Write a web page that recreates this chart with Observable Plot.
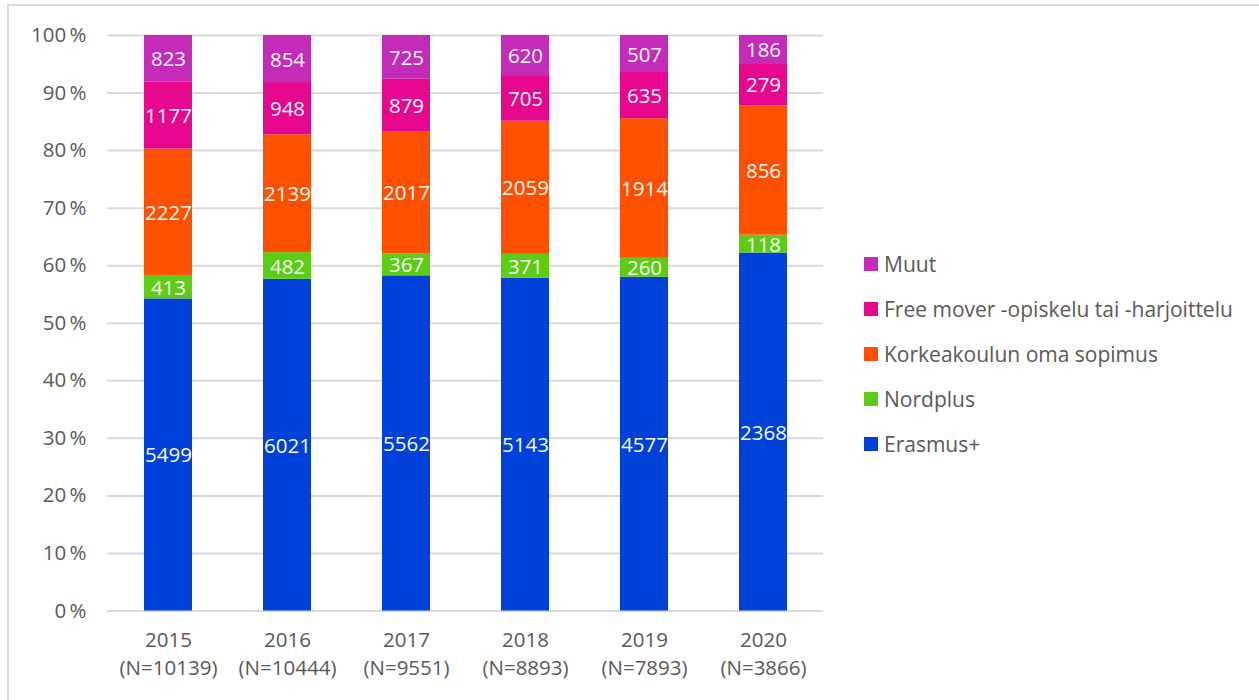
<!DOCTYPE html>
<html>
<head>
<meta charset="utf-8">
<script src="https://cdn.jsdelivr.net/npm/d3@7"></script>
<script src="https://cdn.jsdelivr.net/npm/@observablehq/plot@0.6"></script>
<style>
  html, body { margin: 0; padding: 0; background: #fff; }
  body { width: 1259px; height: 700px; position: relative; overflow: hidden; font-family: "Open Sans", sans-serif; }
  #frame { position: absolute; left: 7px; top: 4px; width: 1270px; height: 720px; border-left: 2px solid #d9d9d9; border-top: 2px solid #d9d9d9; box-sizing: border-box; }
  #chart { position: absolute; left: 0; top: 0; }
  #legend { position: absolute; left: 864px; top: 250px; }
  .item { height: 45px; display: flex; align-items: flex-start; font-size: 21px; color: #595959; line-height: 28px; white-space: nowrap; }
  .sw { width: 14px; height: 14px; margin-right: 6px; margin-top: 7px; flex: none; }
</style>
</head>
<body>
<div id="frame"></div>
<div id="chart"></div>
<div id="legend"></div>
<script>
const years = ["2015", "2016", "2017", "2018", "2019", "2020"];
const totals = ["10139", "10444", "9551", "8893", "7893", "3866"];
const series = ["Erasmus+", "Nordplus", "Korkeakoulun oma sopimus", "Free mover -opiskelu tai -harjoittelu", "Muut"];
const colors = ["#0041D9", "#5CCC14", "#FF5000", "#E6078E", "#C42BB8"];
const erasmus = [5499, 6021, 5562, 5143, 4577, 2368];
const nordplus = [413, 482, 367, 371, 260, 118];
const korkeakoulu = [2227, 2139, 2017, 2059, 1914, 856];
const freeMover = [1177, 948, 879, 705, 635, 279];
const muut = [823, 854, 725, 620, 507, 186];
const yTicks = [0, 0.1, 0.2, 0.3, 0.4, 0.5, 0.6, 0.7, 0.8, 0.9, 1];

const valuesBySeries = [erasmus, nordplus, korkeakoulu, freeMover, muut];
const data = [];
years.forEach((y, i) => {
  series.forEach((s, j) => {
    data.push({year: y, series: s, value: valuesBySeries[j][i]});
  });
});

const label = y => `${y}\n(N=${totals[years.indexOf(y)]})`;

const stackOpts = {x: "year", y: "value", z: "series", order: series, offset: "normalize"};

const chart = Plot.plot({
  width: 840,
  height: 700,
  marginLeft: 107,
  marginRight: 17,
  marginTop: 35,
  marginBottom: 89.5,
  style: {fontFamily: "Open Sans, sans-serif", background: "transparent"},
  x: {domain: years, paddingInner: 0.6, paddingOuter: 0.3, align: 0.5},
  y: {domain: [0, 1]},
  color: {domain: series, range: colors},
  marks: [
    Plot.gridY(yTicks, {stroke: "#d9d9d9", strokeOpacity: 1, strokeWidth: 2}),
    Plot.barY(data, Plot.stackY({...stackOpts, fill: "series"})),
    Plot.text(data, Plot.stackY({...stackOpts, y: "value", text: d => String(d.value), fill: "#f8f8f8", fontSize: 20.5, dy: 1})),
    Plot.axisY(yTicks, {tickSize: 0, tickPadding: 21, tickFormat: d => Math.round(d * 100) + "\u2009%", fontSize: 20.5, fill: "#595959", label: null}),
    Plot.axisX({tickSize: 0, tickPadding: 16, tickFormat: label, fontSize: 20.5, fill: "#595959", lineHeight: 1.38, label: null})
  ]
});
document.getElementById("chart").appendChild(chart);

const legend = document.getElementById("legend");
[...series].reverse().forEach(s => {
  const div = document.createElement("div");
  div.className = "item";
  const sw = document.createElement("span");
  sw.className = "sw";
  sw.style.background = colors[series.indexOf(s)];
  const t = document.createElement("span");
  t.textContent = s;
  div.appendChild(sw);
  div.appendChild(t);
  legend.appendChild(div);
});
</script>
</body>
</html>
